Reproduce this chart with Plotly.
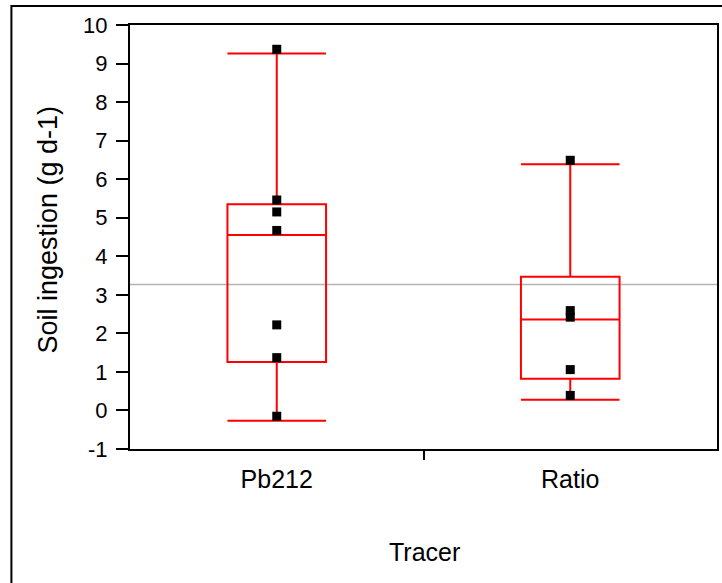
import plotly.graph_objects as go

# Tracer categories and box statistics (g d-1)
tracers = ["Pb212", "Ratio"]
lower_fence = [-0.27, 0.28]
q1 = [1.26, 0.82]
median = [4.55, 2.36]
q3 = [5.35, 3.47]
upper_fence = [9.26, 6.39]

# Individual subject estimates
pb212_values = [9.37, 5.46, 5.15, 4.67, 2.22, 1.37, -0.15]
ratio_values = [6.49, 2.59, 2.42, 1.06, 0.39]

# Overall reference level
reference_level = 3.27

y_ticks = list(range(-1, 11))
y_tick_text = [str(v) for v in y_ticks]

W, H = 722, 583
left, right, top, bottom = 130, 3, 25, 133.5
plot_w = W - left - right
plot_h = H - top - bottom

def px_x(px):
    return (px - left) / plot_w

def px_y(py):
    return (H - bottom - py) / plot_h

font_family = "Arial, Liberation Sans, sans-serif"

fig = go.Figure()

fig.add_trace(go.Box(
    x=tracers,
    q1=q1, median=median, q3=q3,
    lowerfence=lower_fence, upperfence=upper_fence,
    boxpoints=False,
    width=0.336,
    whiskerwidth=1,
    line=dict(color="#ff0000", width=2),
    fillcolor="rgba(0,0,0,0)",
    showlegend=False,
    hoverinfo="skip",
))

fig.add_trace(go.Scatter(
    x=[tracers[0]] * len(pb212_values) + [tracers[1]] * len(ratio_values),
    y=pb212_values + ratio_values,
    mode="markers",
    marker=dict(symbol="square", size=9, color="black"),
    showlegend=False,
))

# Numeric overlay axis carrying the single tick between the two groups
fig.add_trace(go.Scatter(
    x=[None], y=[None], xaxis="x2", yaxis="y",
    mode="markers", showlegend=False, hoverinfo="skip",
))

fig.add_shape(
    type="line", xref="paper", x0=0, x1=1,
    yref="y", y0=reference_level, y1=reference_level,
    line=dict(color="#b4b4b4", width=1.5), layer="below",
)

# Outer frame around the figure
fig.add_shape(
    type="rect", xref="paper", yref="paper",
    x0=px_x(11), x1=px_x(740), y0=px_y(600), y1=px_y(6),
    line=dict(color="black", width=2), layer="above",
)

fig.update_layout(
    width=W, height=H,
    margin=dict(l=left, r=right, t=top, b=bottom, pad=0),
    paper_bgcolor="white", plot_bgcolor="white",
    font=dict(family=font_family, color="black"),
    xaxis=dict(
        type="category", categoryarray=tracers, range=[-0.5, 1.5],
        showline=True, linecolor="black", linewidth=2, mirror=True,
        ticks="", showgrid=False, zeroline=False,
        tickfont=dict(size=25), ticklabelstandoff=7,
    ),
    xaxis2=dict(
        overlaying="x", anchor="y", side="bottom",
        range=[-0.5, 1.5], tickvals=[0.5], ticks="outside",
        ticklen=10, tickwidth=2, tickcolor="black",
        showticklabels=False, showgrid=False, zeroline=False, showline=False,
    ),
    yaxis=dict(
        range=[-1, 10], tickvals=y_ticks, ticktext=y_tick_text,
        showline=True, linecolor="black", linewidth=2, mirror=True,
        ticks="outside", ticklen=12, tickwidth=2, tickcolor="black",
        showgrid=False, zeroline=False,
        tickfont=dict(size=22), ticklabelstandoff=4,
    ),
    annotations=[
        dict(text="Soil ingestion (g d-1)", textangle=-90,
             xref="paper", yref="paper", x=px_x(48), y=px_y(229.5),
             xanchor="center", yanchor="middle", showarrow=False,
             font=dict(size=27, family=font_family)),
        dict(text="Tracer",
             xref="paper", yref="paper", x=px_x(426), y=px_y(552.5),
             xanchor="center", yanchor="middle", showarrow=False,
             font=dict(size=25, family=font_family)),
    ],
)

fig.write_html("out.html")
